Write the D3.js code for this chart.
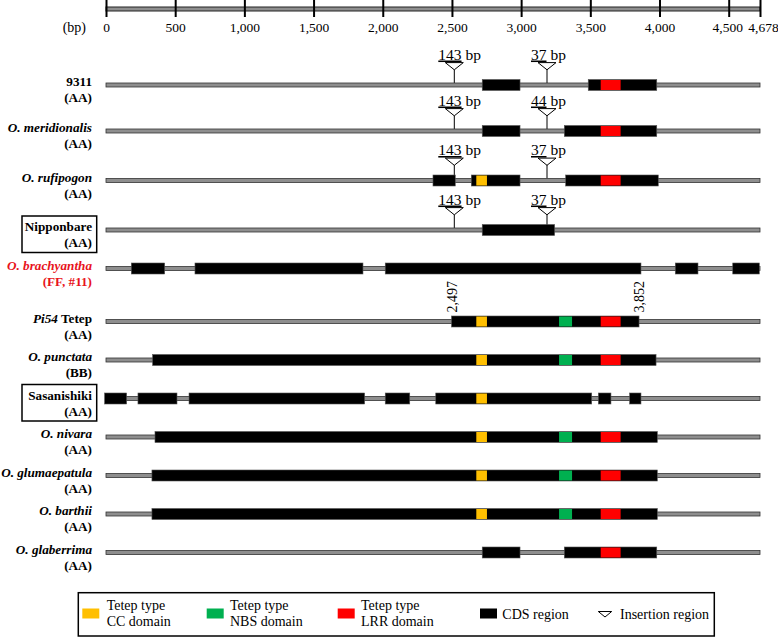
<!DOCTYPE html>
<html><head><meta charset="utf-8">
<script src="https://cdn.jsdelivr.net/npm/d3@7"></script>
<style>body{margin:0;background:#fff} svg{display:block;font-family:"Liberation Serif","Times New Roman",serif}</style>
</head><body><svg id="c" width="778" height="637"></svg>
<script>
// ---------------- data ----------------
const geneLength = 4678;
const axisTicks = [0, 500, 1000, 1500, 2000, 2500, 3000, 3500, 4000, 4500, 4678];
const rowNames = ["9311", "_O. meridionalis_", "_O. rufipogon_", "Nipponbare", "_O. brachyantha_", "_Pi54_ Tetep",
  "_O. punctata_", "Sasanishiki", "_O. nivara_", "_O. glumaepatula_", "_O. barthii_", "_O. glaberrima_"];
const rowGenomes = ["(AA)", "(AA)", "(AA)", "(AA)", "(FF, #11)", "(AA)", "(BB)", "(AA)", "(AA)", "(AA)", "(AA)", "(AA)"];
const boxedRows = ["Nipponbare", "Sasanishiki"];
const highlightedRows = ["_O. brachyantha_"];
const cdsRegions = [
  [[2719, 2992], [3485, 3980]],
  [[2719, 2992], [3312, 3980]],
  [[2363, 2524], [2640, 2992], [3322, 3991]],
  [[2719, 3242]],
  [[183, 424], [643, 1857], [2018, 3866], [4114, 4278], [4523, 4674]],
  [[2497, 3852]],
  [[337, 3975]],
  [[-10, 149], [231, 513], [600, 1869], [2018, 2195], [2383, 3510], [3558, 3649], [3784, 3866]],
  [[354, 3984]],
  [[332, 3984]],
  [[332, 3984]],
  [[2719, 2992], [3312, 3980]]
];
const ccDomains  = [null, null, [2676, 2753], null, null, [2676, 2753], [2676, 2753], [2676, 2753], [2676, 2753], [2676, 2753], [2676, 2753], null];
const nbsDomains = [null, null, null, null, null, [3274, 3368], [3274, 3368], null, [3274, 3368], [3274, 3368], [3274, 3368], null];
const lrrDomains = [[3575, 3719], [3575, 3719], [3575, 3719], null, null, [3575, 3719], [3575, 3719], null, [3575, 3719], [3575, 3719], [3575, 3719], [3575, 3719]];
const insertions = [
  [[2517, 143], [3187, 37]],
  [[2517, 143], [3187, 44]],
  [[2517, 143], [3187, 37]],
  [[2517, 143], [3187, 37]],
  [], [], [], [], [], [], [], []
];
const positionLabels = [[], [], [], [], [], [2497, 3852], [], [], [], [], [], []];
const legendLabels = [["Tetep type", "CC domain"], ["Tetep type", "NBS domain"], ["Tetep type", "LRR domain"], ["CDS region"], ["Insertion region"]];

// ---------------- drawing ----------------
const colors = {cc: "#ffbf00", nbs: "#00b050", lrr: "#ff0000", cds: "#000", line: "#8e8e8e"};
const FONT = "Liberation Serif, Times New Roman, serif";
const svg = d3.select("#c");
const x = d3.scaleLinear().domain([0, 4500, geneLength]).range([106, 728.7, 760]);
const fmt = d3.format(",");

// row y layout
const rowY = [];
let yy = 85;
rowNames.forEach((n, i) => {
  if (i > 0) yy += 38.5 + (insertions[i].length ? (i === 1 ? 7.5 : 11) : 0) + (positionLabels[i].length ? 14.5 : 0);
  rowY.push(yy);
});

// top axis
const axisG = svg.append("g");
axisG.append("rect").attr("x", x(0)).attr("y", 7).attr("width", x(geneLength) - x(0)).attr("height", 4)
  .attr("fill", colors.line).attr("stroke", "#222").attr("stroke-width", 1);
const ax = svg.append("g").attr("transform", "translate(0,0)")
  .call(d3.axisBottom(x).tickValues(axisTicks).tickFormat(fmt).tickSize(17).tickPadding(5.5));
ax.attr("font-family", FONT).attr("font-size", 13.5);
ax.select(".domain").remove();
ax.selectAll(".tick line").attr("stroke", "#000").attr("stroke-width", 2);
ax.selectAll(".tick text").attr("font-size", 13.5).attr("fill", "#000").attr("font-family", FONT)
  .attr("dx", d => d === geneLength ? 3 : (d === 4500 ? -1.5 : 0));
svg.append("text").attr("x", 86).attr("y", 32).attr("text-anchor", "end").attr("font-size", 14).text("(bp)");

// rows
rowNames.forEach((name, i) => {
  const y = rowY[i];
  const g = svg.append("g");
  // insertions
  insertions[i].forEach(([pos, len]) => {
    const px = x(pos);
    g.append("line").attr("x1", px).attr("x2", px).attr("y1", y - 15.7).attr("y2", y - 2)
      .attr("stroke", "#000").attr("stroke-width", 1);
    g.append("path").attr("d", `M${px - 9},${y - 22.4}L${px + 9},${y - 22.4}L${px},${y - 15.2}Z`)
      .attr("fill", "#fff").attr("stroke", "#000").attr("stroke-width", 1);
    const t = g.append("text").attr("x", px - 16).attr("y", y - 25.5).attr("font-size", 15.5);
    t.append("tspan").attr("text-decoration", "underline").text(len);
    t.append("tspan").text(" bp");
  });
  // gene line
  g.append("rect").attr("x", x(0)).attr("y", y - 2).attr("width", x(geneLength) - x(0)).attr("height", 4)
    .attr("fill", colors.line).attr("stroke", "#333").attr("stroke-width", 0.8);
  // CDS
  g.selectAll(".cds").data(cdsRegions[i]).join("rect")
    .attr("x", d => x(d[0])).attr("width", d => x(d[1]) - x(d[0]))
    .attr("y", y - 5.5).attr("height", 11).attr("fill", colors.cds).attr("stroke", "#555").attr("stroke-width", 0.6);
  // domains
  [[ccDomains[i], colors.cc], [nbsDomains[i], colors.nbs], [lrrDomains[i], colors.lrr]].forEach(([d, c]) => {
    if (!d) return;
    g.append("rect").attr("x", x(d[0])).attr("width", x(d[1]) - x(d[0]))
      .attr("y", y - 5).attr("height", 10).attr("fill", c);
  });
  // position labels
  positionLabels[i].forEach(p => {
    g.append("text").attr("transform", `translate(${x(p) + 5},${y - 9}) rotate(-90)`)
      .attr("font-size", 14).text(fmt(p));
  });
  // row label
  const color = highlightedRows.includes(name) ? "#e8141c" : "#000";
  const t1 = g.append("text").attr("x", 92).attr("y", y + 1).attr("text-anchor", "end")
    .attr("font-size", 13.2).attr("font-weight", "bold").attr("fill", color);
  name.split("_").forEach((s, k) => {
    if (!s) return;
    t1.append("tspan").attr("font-style", k % 2 ? "italic" : "normal").text(s);
  });
  g.append("text").attr("x", 92).attr("y", y + 17).attr("text-anchor", "end")
    .attr("font-size", 13.2).attr("font-weight", "bold").attr("fill", color).text(rowGenomes[i]);
  if (boxedRows.includes(name)) {
    g.append("rect").attr("x", 22).attr("y", y - 14).attr("width", 74.7).attr("height", 36.5)
      .attr("fill", "none").attr("stroke", "#000").attr("stroke-width", 1.5);
  }
});

// legend
const lg = svg.append("g");
lg.append("rect").attr("x", 78.3).attr("y", 592.7).attr("width", 636).attr("height", 43.3)
  .attr("fill", "#fff").attr("stroke", "#000").attr("stroke-width", 1.5);
const legendSwatches = [colors.cc, colors.nbs, colors.lrr, colors.cds, "insertion"];
const legendX = [82.3, 206.7, 337.7, 480, 598.3];
const legendTextX = [106.7, 230, 361, 502.3, 620];
legendLabels.forEach((lab, k) => {
  const sw = legendSwatches[k];
  if (sw === "insertion") {
    lg.append("path").attr("d", `M${legendX[k]},${611.5}L${legendX[k] + 13.4},${611.5}L${legendX[k] + 6.7},${617}Z`)
      .attr("fill", "#fff").attr("stroke", "#000").attr("stroke-width", 1);
  } else {
    lg.append("rect").attr("x", legendX[k]).attr("y", 608.5).attr("width", 17).attr("height", 10).attr("fill", sw);
  }
  const t = lg.append("text").attr("font-size", 14).attr("x", legendTextX[k]);
  if (lab.length === 2) {
    t.append("tspan").attr("x", legendTextX[k]).attr("y", 610).text(lab[0]);
    t.append("tspan").attr("x", legendTextX[k]).attr("y", 626).text(lab[1]);
  } else {
    t.attr("y", 618.5).text(lab[0]);
  }
});
</script></body></html>
